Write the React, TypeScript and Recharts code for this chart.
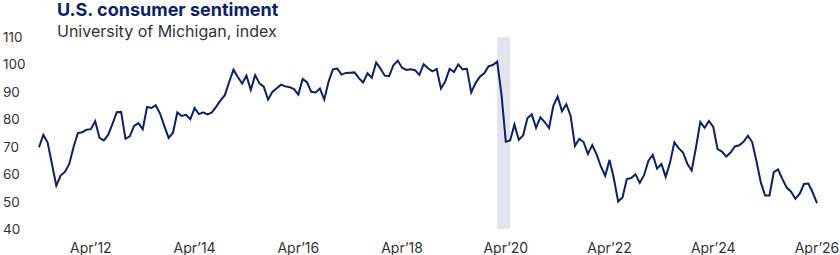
import React from "react";
import { LineChart, Line, XAxis, YAxis, ReferenceArea } from "recharts";

// University of Michigan consumer sentiment, monthly, Apr 2011 -> Apr 2026
const y2011 = [69.8, 74.3, 71.5, 63.7, 55.8, 59.5, 60.8, 63.7, 69.9]; // Apr-Dec
const y2012 = [75.0, 75.3, 76.2, 76.4, 79.3, 73.2, 72.3, 74.3, 78.3, 82.6, 82.7, 72.9];
const y2013 = [73.8, 77.6, 78.6, 76.4, 84.5, 84.1, 85.1, 82.1, 77.5, 73.2, 75.1, 82.5];
const y2014 = [81.2, 81.6, 80.0, 84.1, 81.9, 82.5, 81.8, 82.5, 84.6, 86.9, 88.8, 93.6];
const y2015 = [98.1, 95.4, 93.0, 95.9, 90.7, 96.1, 93.1, 91.9, 87.2, 90.0, 91.3, 92.6];
const y2016 = [92.0, 91.7, 91.0, 89.0, 94.7, 93.5, 90.0, 89.8, 91.2, 87.2, 93.8, 98.2];
const y2017 = [98.5, 96.3, 96.9, 97.0, 97.1, 95.0, 93.4, 96.8, 95.1, 100.7, 98.5, 95.9];
const y2018 = [95.7, 99.7, 101.4, 98.8, 98.0, 98.2, 97.9, 96.2, 100.1, 98.6, 97.5, 98.3];
const y2019 = [91.2, 93.8, 98.4, 97.2, 100.0, 98.2, 98.4, 89.8, 93.2, 95.5, 96.8, 99.3];
const y2020 = [99.8, 101.0, 89.1, 71.8, 72.3, 78.1, 72.5, 74.1, 80.4, 81.8, 76.9, 80.7];
const y2021 = [79.0, 76.8, 84.9, 88.3, 82.9, 85.5, 81.2, 70.3, 72.8, 71.7, 67.4, 70.6];
const y2022 = [67.2, 62.8, 59.4, 65.2, 58.4, 50.0, 51.5, 58.2, 58.6, 59.9, 56.8, 59.7];
const y2023 = [64.9, 67.0, 62.0, 63.7, 59.0, 64.2, 71.6, 69.5, 67.9, 63.8, 61.3, 69.7];
const y2024 = [79.0, 76.9, 79.4, 77.2, 69.1, 68.2, 66.4, 67.9, 70.1, 70.5, 71.8, 74.0];
const y2025 = [71.7, 64.7, 57.0, 52.2, 52.2, 60.7, 61.7, 58.2, 55.1, 53.6, 51.0, 52.9];
const y2026 = [56.4, 56.6, 53.3, 49.4]; // Jan-Apr

const sentiment = [
  ...y2011, ...y2012, ...y2013, ...y2014, ...y2015, ...y2016, ...y2017, ...y2018,
  ...y2019, ...y2020, ...y2021, ...y2022, ...y2023, ...y2024, ...y2025, ...y2026,
];

const START_YEAR = 2011;
const START_MONTH = 3; // April, 0-based
const MONTHS = ["Jan", "Feb", "Mar", "Apr", "May", "Jun", "Jul", "Aug", "Sep", "Oct", "Nov", "Dec"];

// x tick positions: every second April (month index from Apr 2011)
const xTicks = [12, 36, 60, 84, 108, 132, 156, 180];
const yTicks = [40, 50, 60, 70, 80, 90, 100, 110];
// recession shading, Feb 2020 -> May 2020
const recession = [106, 109];

const data = sentiment.map((value, i) => ({ i, value }));

const monthLabel = (i: number) => {
  const m = START_MONTH + i;
  const yr = START_YEAR + Math.floor(m / 12);
  return `${MONTHS[m % 12]}’${String(yr).slice(2)}`;
};

const NAVY = "#0b1f6b";
const TEXT = "#333333";
const FONT = "Inter, 'Noto Sans', sans-serif";

const YTick = (props: any) => {
  const { y, payload } = props;
  return (
    <text x={3} y={y} dy={5} fill={TEXT} fontSize={13.5} fontFamily={FONT} textAnchor="start">
      {payload.value}
    </text>
  );
};

export default function App() {
  return (
    <div style={{ position: "absolute", left: 0, top: 0, width: 840, height: 255, background: "#fff", fontFamily: FONT }}>
      <LineChart width={840} height={255} data={data} margin={{ top: 37, right: 23, bottom: 0, left: 0 }}>
        <ReferenceArea x1={recession[0]} x2={recession[1]} y1={40} y2={110} fill="#e3e3ee" fillOpacity={1} stroke="none" />
        <XAxis
          dataKey="i"
          type="number"
          domain={[0, 180]}
          ticks={xTicks}
          tickFormatter={monthLabel}
          axisLine={false}
          tickLine={false}
          height={26}
          tickMargin={8}
          tick={{ fill: TEXT, fontSize: 14, fontFamily: FONT }}
        />
        <YAxis
          type="number"
          domain={[40, 110]}
          ticks={yTicks}
          axisLine={false}
          tickLine={false}
          width={39}
          tick={<YTick />}
        />
        <Line
          type="linear"
          dataKey="value"
          stroke={NAVY}
          strokeWidth={2}
          dot={false}
          isAnimationActive={false}
        />
      </LineChart>
      <div style={{ position: "absolute", left: 57, top: 1, fontSize: 18, lineHeight: "18px", fontWeight: 700, color: NAVY, whiteSpace: "nowrap" }}>
        U.S. consumer sentiment
      </div>
      <div style={{ position: "absolute", left: 57, top: 21, fontSize: 16, color: TEXT, whiteSpace: "nowrap" }}>
        University of Michigan, index
      </div>
    </div>
  );
}
